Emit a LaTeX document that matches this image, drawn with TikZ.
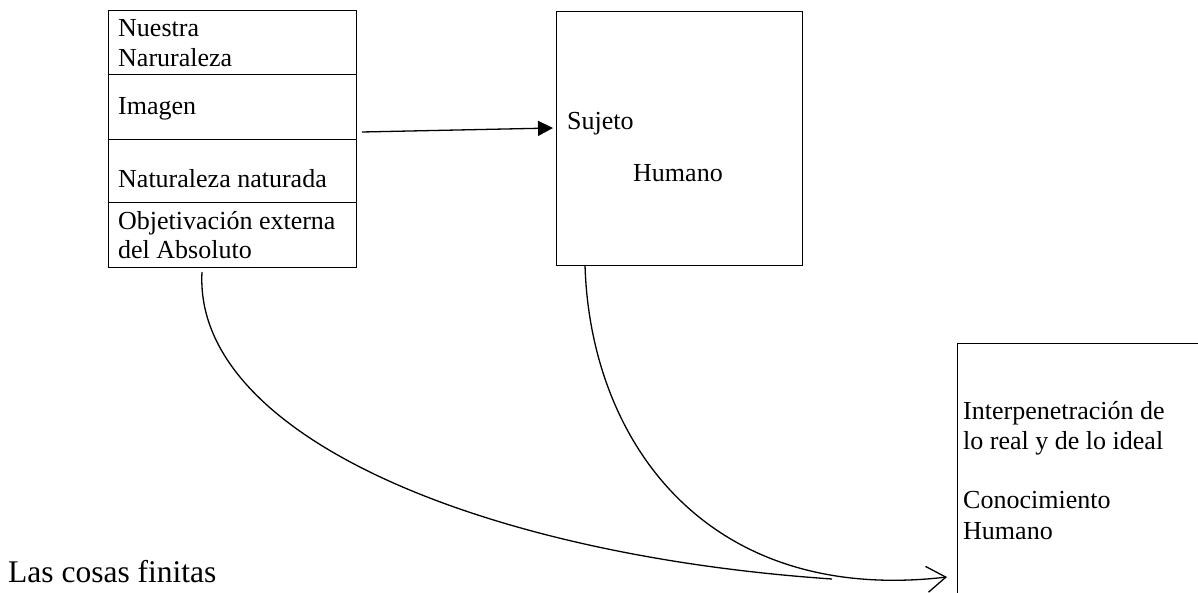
\documentclass[tikz,border=0pt]{standalone}
\usepackage{fontspec}
\setmainfont{Liberation Serif}
\usetikzlibrary{arrows.meta}
\newcommand\txtsize{\fontsize{26}{30}\selectfont}
\newcommand\bigsize{\fontsize{31.5}{36}\selectfont}
\tikzset{
  cell/.style={draw, line width=1pt, inner sep=0pt, outer sep=0pt, anchor=north west},
  lbl/.style={anchor=base west, inner sep=0pt, font=\txtsize},
  link/.style={line width=1.3pt},
}
\begin{document}
\begin{tikzpicture}[x=1pt,y=-1pt]
\useasboundingbox (0,0) rectangle (1198,593);
\clip (0,0) rectangle (1198,593);
% left column of cells
\node[cell, minimum width=248pt, minimum height=64pt] (L1) at (108,11) {};
\node[cell, minimum width=248pt, minimum height=65pt] (L2) at (108,75) {};
\node[cell, minimum width=248pt, minimum height=63pt] (L3) at (108,140) {};
\node[cell, minimum width=248pt, minimum height=65pt] (L4) at (108,203) {};
\node[lbl] (t1) at (118,36.7) {Nuestra};
\node[lbl] (t2) at (118,66.7) {Naruraleza};
\node[lbl] (t3) at (118,115) {Imagen};
\node[lbl] (t4) at (118,188) {Naturaleza naturada};
\node[lbl] (t5) at (118,230) {Objetivación externa};
\node[lbl] (t6) at (118,259) {del Absoluto};
% subject box
\node[cell, minimum width=246pt, minimum height=254pt] (S) at (556,12) {};
\node[lbl] (s1) at (567,130) {Sujeto};
\node[lbl] (s2) at (633,182) {Humano};
% knowledge box (cut by the page edge)
\node[cell, minimum width=280pt, minimum height=280pt] (K) at (957,343) {};
\node[lbl] (k1) at (963,419) {Interpenetración de};
\node[lbl] (k2) at (963,449) {lo real y de lo ideal};
\node[lbl] (k3) at (963,508) {Conocimiento};
\node[lbl] (k4) at (963,539) {Humano};
% finite things
\node[anchor=base west, inner sep=0pt, font=\bigsize] (F) at (8,582) {Las cosas finitas};
% connectors
\coordinate (a1) at (362,132);
\coordinate (a2) at (553,128);
\draw[line width=1.3pt, -{Triangle[length=15pt,width=15pt]}] (a1) -- (a2);
\coordinate (c1s) at (202,272);
\coordinate (c1e) at (832,579);
\draw[link] (c1s) .. controls (193,435) and (480,555) .. (c1e);
\coordinate (c2s) at (585,265);
\coordinate (c2e) at (947,577);
\draw[link, -{Straight Barb[length=19pt,width=26pt,line width=1.3pt]}] (c2s) .. controls (590,440) and (705,605) .. (c2e);
\end{tikzpicture}
\end{document}
